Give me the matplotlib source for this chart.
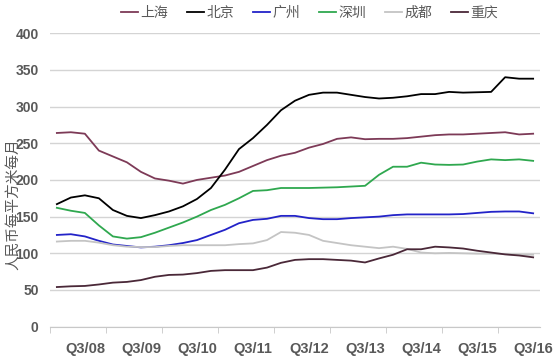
import matplotlib
matplotlib.use('Agg')
import matplotlib.pyplot as plt
import numpy as np

plt.rcParams['font.family'] = ['Liberation Sans', 'Noto Sans CJK SC']

# quarterly data Q1/08 .. Q3/16
quarters = [f'Q{q}/{y:02d}' for y in range(8, 17) for q in range(1, 5)][:35]
tick_labels = ['Q3/08', 'Q3/09', 'Q3/10', 'Q3/11', 'Q3/12',
               'Q3/13', 'Q3/14', 'Q3/15', 'Q3/16']

shanghai = [264, 265, 263, 240, 232, 224, 211, 202, 199, 195,
            200, 203, 206, 211, 219, 227, 233, 237, 244, 249,
            256, 258, 255.5, 256, 256, 257, 259, 261, 262, 262,
            263, 264, 265, 262, 263]
beijing = [167, 176, 179, 175, 159, 151, 148, 152, 157, 164,
           174, 189, 214, 242, 257, 275, 295, 308, 316, 319,
           319, 316, 313, 311, 312, 314, 317, 317, 320, 319,
           319.5, 320, 340, 338, 338]
guangzhou = [125, 126, 123, 117, 112, 110, 108, 109, 111, 114,
             118, 125, 132, 141, 145.5, 147, 151, 151, 148, 146.5,
             146.5, 148, 149, 150, 152, 153, 153, 153, 153, 153.5,
             155, 156.5, 157, 157, 154.5]
shenzhen = [162, 158, 155, 138, 123, 120, 122, 128, 135, 142,
            150, 159, 166, 175, 185, 186, 189, 189, 189, 189.5,
            190, 191, 192, 207, 218, 218, 223.5, 221, 220.5, 221,
            225, 228, 227, 228, 226]
chengdu = [116, 117, 117, 114.5, 111, 109, 108.5, 108.5, 110, 111,
           111, 111, 111, 112.5, 113.5, 118, 129, 128, 125, 117,
           114, 111, 109, 107, 109, 106, 101, 100, 100.5, 100,
           99.5, 99.5, 99, 98, 98]
chongqing = [54, 55, 55.5, 57.5, 60, 61, 63.5, 68, 70.5, 71,
             73, 76, 77, 77, 77, 80.5, 87, 91, 92, 92,
             91, 90, 87.5, 93, 98, 105.5, 105.5, 109, 108, 106.5,
             103.5, 101, 98.5, 97, 94.5]

series = [
    ('上海', shanghai, '#7d3a57'),
    ('北京', beijing, '#000000'),
    ('广州', guangzhou, '#2323c8'),
    ('深圳', shenzhen, '#2fa84f'),
    ('成都', chengdu, '#c4c4c4'),
    ('重庆', chongqing, '#4a2838'),
]

fig = plt.figure(figsize=(5.54, 3.57), dpi=100)
ax = fig.add_axes([0.09, 0.085, 0.885, 0.822])

x = np.arange(len(quarters))
for name, vals, col in series:
    ax.plot(x, vals, color=col, lw=1.3, label=name)

ax.set_xlim(-0.5, len(quarters) - 0.5)
ax.set_ylim(0, 400)
ax.set_yticks(range(0, 401, 50))
ax.yaxis.grid(True, color='#d4d4d4', lw=1)
ax.set_axisbelow(True)
for s in ['top', 'right', 'left']:
    ax.spines[s].set_visible(False)
ax.spines['bottom'].set_color('#c8c8c8')

ax.set_xticks([quarters.index(t) for t in tick_labels])
ax.set_xticklabels(tick_labels)
ax.set_xticks(np.arange(-0.5, len(quarters), 4), minor=True)
ax.tick_params(axis='x', which='major', length=0, pad=11)
ax.tick_params(axis='x', which='minor', length=4, color='#c8c8c8',
               direction='out')
ax.tick_params(axis='y', length=0, pad=8)
for lbl in ax.get_xticklabels():
    lbl.set_fontweight('bold')
    lbl.set_fontsize(10.5)
    lbl.set_color('#595959')
for lbl in ax.get_yticklabels():
    lbl.set_fontweight('bold')
    lbl.set_fontsize(10)
    lbl.set_color('#595959')

ax.set_ylabel('人民币每平方米每月', fontsize=10.5, color='#595959',
              family=['Noto Sans CJK SC'])
ax.yaxis.set_label_coords(-0.06, 0.418)

leg = ax.legend(loc='center', bbox_to_anchor=(0.53, 1.068), ncol=6,
                frameon=False, handlelength=1.2, handletextpad=0.2,
                columnspacing=1.35, prop={'family': 'Noto Sans CJK SC',
                                          'size': 10})
for t in leg.get_texts():
    t.set_color('#595959')

fig.savefig('out.png', dpi=100)
